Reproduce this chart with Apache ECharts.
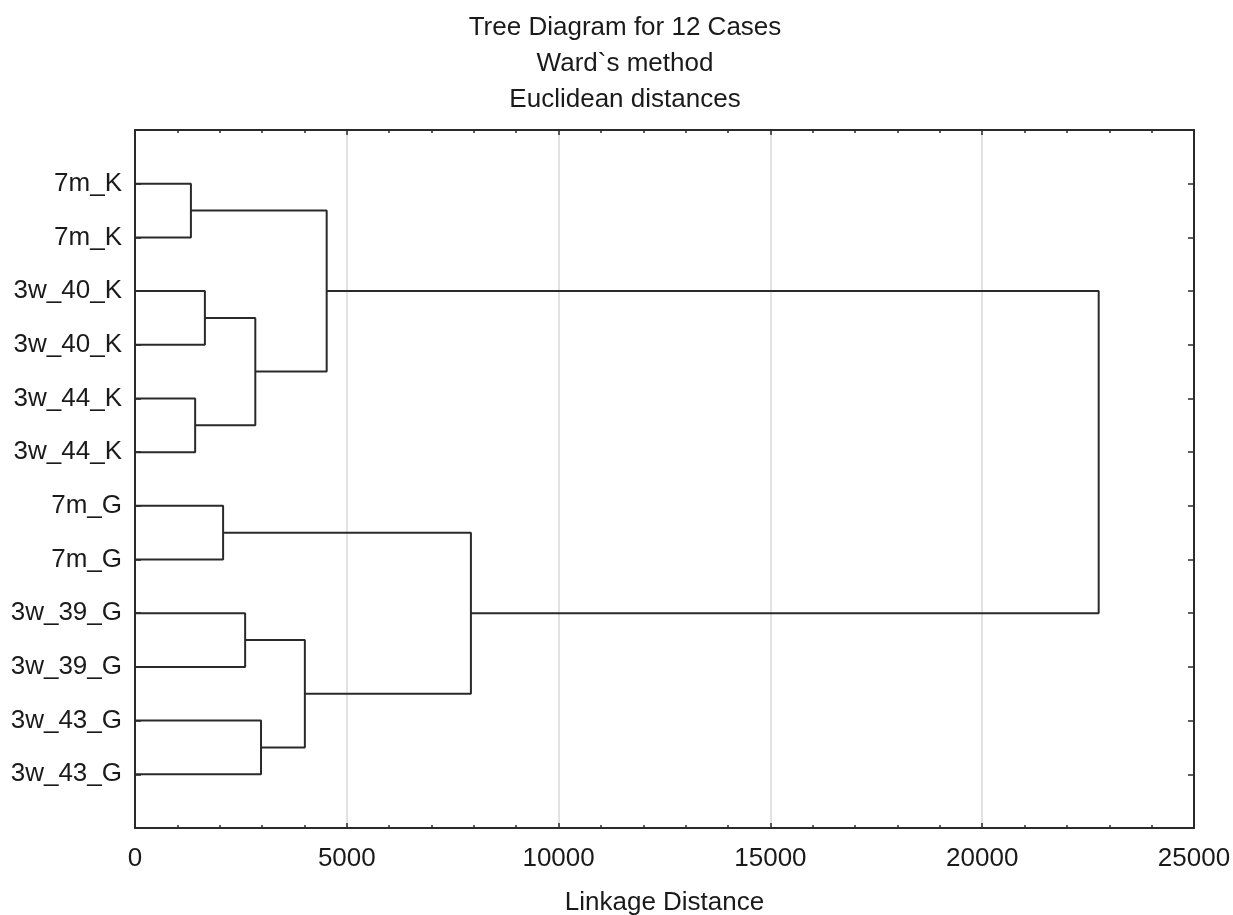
<!DOCTYPE html>
<html>
<head>
<meta charset="utf-8">
<script src="https://cdn.jsdelivr.net/npm/echarts@6/dist/echarts.min.js"></script>
<style>
html,body{margin:0;padding:0;background:#fff;}
#chart{width:1233px;height:915px;}
</style>
</head>
<body>
<div id="chart"></div>
<script>
// Leaf labels, top to bottom
var leafLabels = ['7m_K','7m_K','3w_40_K','3w_40_K','3w_44_K','3w_44_K','7m_G','7m_G','3w_39_G','3w_39_G','3w_43_G','3w_43_G'];
// Merges: node ids 0..11 are leaves, merge k creates node 12+k
var mergeLeft   = [0, 2, 4, 13, 12, 6, 8, 10, 18, 17, 16];
var mergeRight  = [1, 3, 5, 14, 15, 7, 9, 11, 19, 20, 21];
var mergeHeight = [1320, 1650, 1420, 2840, 4525, 2080, 2600, 2975, 4010, 7930, 22750];
var xTicks = [0, 5000, 10000, 15000, 20000, 25000];

var FONT = 'Liberation Sans, Arial, sans-serif';
var nodeX = [], nodeY = [];
for (var i = 0; i < leafLabels.length; i++) { nodeX.push(0); nodeY.push(i + 1); }
var series = [];
for (var k = 0; k < mergeLeft.length; k++) {
  var a = mergeLeft[k], b = mergeRight[k], h = mergeHeight[k];
  series.push({
    type: 'line', symbol: 'none', silent: true, animation: false,
    lineStyle: { color: '#2a2a2a', width: 2 },
    data: [[nodeX[a], nodeY[a]], [h, nodeY[a]], [h, nodeY[b]], [nodeX[b], nodeY[b]]]
  });
  nodeX.push(h);
  nodeY.push((nodeY[a] + nodeY[b]) / 2);
}

var axisLineStyle = { color: '#2a2a2a', width: 2 };
var chart = echarts.init(document.getElementById('chart'), null, { renderer: 'canvas' });
chart.setOption({
  backgroundColor: '#fff',
  animation: false,
  title: {
    text: 'Tree Diagram for 12 Cases\nWard`s method\nEuclidean distances',
    left: 620, top: 5, textAlign: 'center',
    textStyle: { fontFamily: FONT, fontSize: 26, fontWeight: 'normal', color: '#1a1a1a', lineHeight: 36 }
  },
  grid: { left: 135, right: 39, top: 130, bottom: 87, containLabel: false, outerBoundsMode: 'none' },
  xAxis: [{
    type: 'value', min: xTicks[0], max: xTicks[xTicks.length - 1], interval: 5000,
    position: 'bottom',
    name: 'Linkage Distance', nameLocation: 'middle', nameGap: 62,
    nameTextStyle: { fontFamily: FONT, fontSize: 26, color: '#1a1a1a' },
    axisLine: { show: true, onZero: false, lineStyle: axisLineStyle },
    axisTick: { show: true, inside: true, length: 5, lineStyle: { color: '#2a2a2a', width: 1.5 } },
    minorTick: { show: true, splitNumber: 5, length: 3, lineStyle: { color: '#2a2a2a', width: 1.5 } },
    axisLabel: { fontFamily: FONT, fontSize: 26, color: '#1a1a1a', margin: 18,
      formatter: function (v) { return String(v); } },
    splitLine: { show: true, lineStyle: { color: '#d8d8d8', width: 1.5 } }
  }, {
    type: 'value', min: xTicks[0], max: xTicks[xTicks.length - 1], interval: 5000,
    position: 'top',
    axisLine: { show: true, onZero: false, lineStyle: axisLineStyle },
    axisTick: { show: true, inside: true, length: 5, lineStyle: { color: '#2a2a2a', width: 1.5 } },
    minorTick: { show: true, splitNumber: 5, length: 3, lineStyle: { color: '#2a2a2a', width: 1.5 } },
    axisLabel: { show: false },
    splitLine: { show: false }
  }],
  yAxis: [{
    type: 'value', min: 0, max: leafLabels.length + 1, interval: 1, inverse: true,
    position: 'left',
    axisLine: { show: true, onZero: false, lineStyle: axisLineStyle },
    axisTick: { show: true, inside: true, length: 6, lineStyle: { color: '#2a2a2a', width: 1.5 } },
    axisLabel: {
      fontFamily: FONT, fontSize: 26, color: '#1a1a1a', margin: 13,
      formatter: function (v) { return (v >= 1 && v <= leafLabels.length) ? leafLabels[v - 1] : ''; }
    },
    splitLine: { show: false }
  }, {
    type: 'value', min: 0, max: leafLabels.length + 1, interval: 1, inverse: true,
    position: 'right',
    axisLine: { show: true, onZero: false, lineStyle: axisLineStyle },
    axisTick: { show: true, inside: true, length: 6, lineStyle: { color: '#2a2a2a', width: 1.5 } },
    axisLabel: { show: false },
    splitLine: { show: false }
  }],
  series: series
});
</script>
</body>
</html>
